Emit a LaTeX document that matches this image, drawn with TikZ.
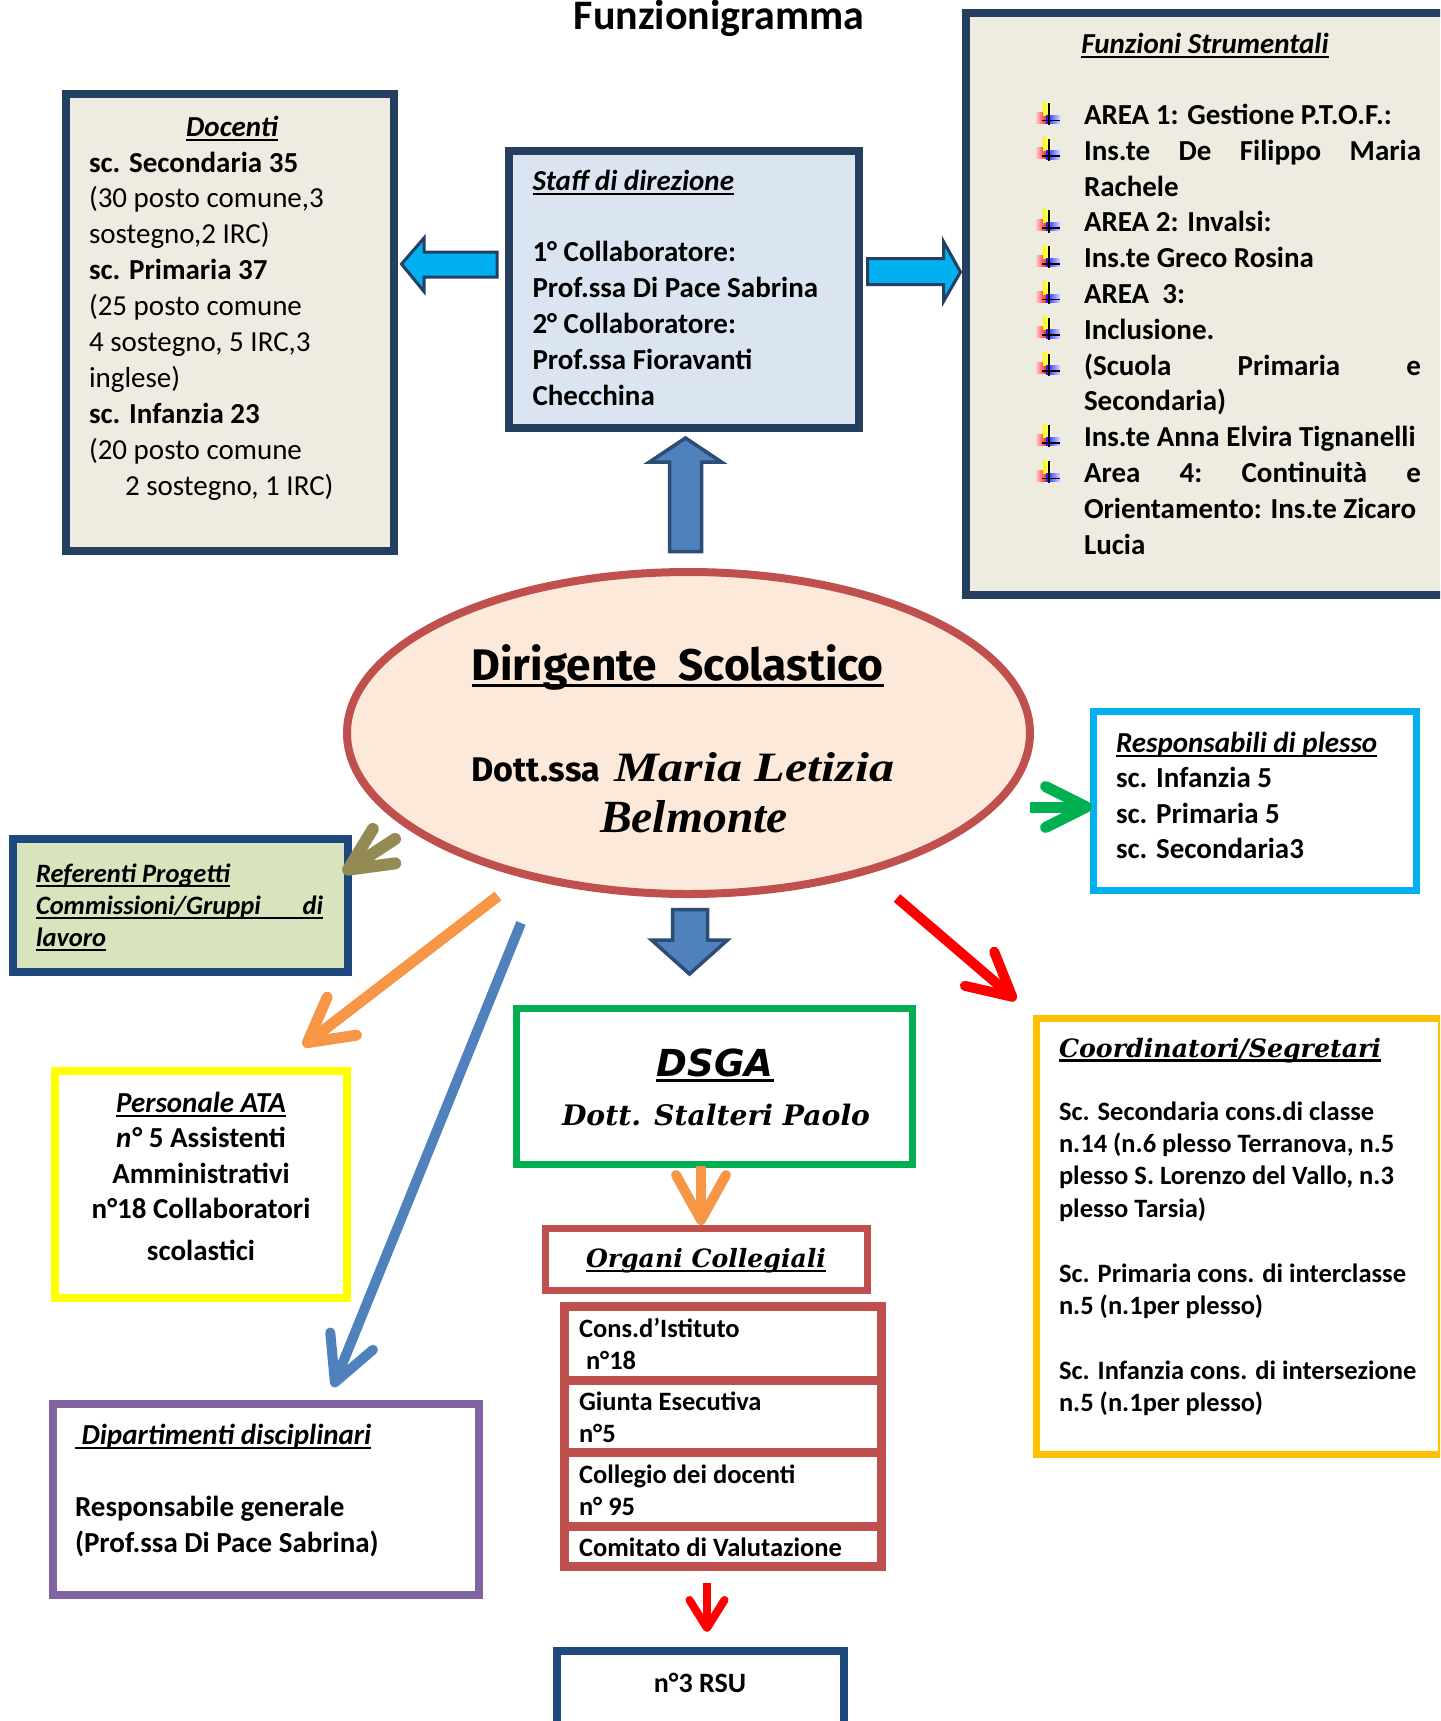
\documentclass[tikz,border=0pt]{standalone}
\usepackage{fontspec}
\usepackage{graphicx}
\setmainfont{Carlito}
\newfontfamily\djv{DejaVu Sans}[BoldItalicFont={* Bold Oblique}]
\newfontfamily\djvserif{DejaVu Serif}
\newfontfamily\fira{Fira Sans}
\newfontfamily\libserif{Liberation Serif}
\newcommand\bkbi{\djvserif\bfseries\itshape}
\newcommand\scrit{\libserif\bfseries\itshape}
\newcommand\fs[2]{\fontsize{#1}{#2}\selectfont}
% underline at a fixed depth: depth, thickness, text
\newcommand\ulbox[3]{\leavevmode\setbox0=\hbox{#3}\rlap{\rule[-#1]{\wd0}{#2}}\box0}
\newcommand\ulx[1]{\ulbox{4.5pt}{2pt}{#1}}
\usetikzlibrary{arrows.meta,shapes.geometric}

\definecolor{navyA}{HTML}{243F60}
\definecolor{navyB}{HTML}{1F497D}
\definecolor{beige}{HTML}{EEECE1}
\definecolor{paleblue}{HTML}{DBE5F1}
\definecolor{palegreen}{HTML}{D7E4BD}
\definecolor{peach}{HTML}{FDE9D9}
\definecolor{brick}{HTML}{C0504D}
\definecolor{sky}{HTML}{00B0F0}
\definecolor{lemon}{HTML}{FFFF00}
\definecolor{violetB}{HTML}{8064A2}
\definecolor{leaf}{HTML}{00B050}
\definecolor{amber}{HTML}{FFC000}
\definecolor{steel}{HTML}{4F81BD}
\definecolor{steelD}{HTML}{2C4D75}
\definecolor{tangerine}{HTML}{F79646}
\definecolor{oliveB}{HTML}{948A54}
\definecolor{pureRed}{HTML}{FF0000}

\begin{document}
\begin{tikzpicture}[x=1pt,y=-1pt,
  frame/.style={rectangle, inner sep=0pt, outer sep=0pt},
  txt/.style={inner sep=0pt, outer sep=0pt, anchor=base west},
  ctxt/.style={inner sep=0pt, outer sep=0pt, anchor=base},
  blockcyan/.style={fill=sky, draw=navyA, line width=3pt},
  blockblue/.style={fill=steel, draw=steelD, line width=3.5pt},
  barb/.style n args={3}{line width=#3, -{Straight Barb[length=#1,width=#2,round]}},
]
\useasboundingbox (0,0) rectangle (1440,1721);
\clip (0,0) rectangle (1440,1721);

% ---------- title ----------
\node[ctxt] (title) at (719,29) {\fs{42}{50}\bfseries Funzionigramma};

% ---------- boxes ----------
\node[frame, draw=navyA, fill=beige, line width=8pt, minimum width=328pt, minimum height=457pt] (doc) at (230,322.5) {};
\node[frame, draw=navyA, fill=paleblue, line width=8pt, minimum width=350pt, minimum height=277pt] (staff) at (684,289.2) {};
\node[frame, draw=navyA, fill=beige, line width=8pt, minimum width=482pt, minimum height=582pt] (fun) at (1207,304) {};
\node[ellipse, draw=brick, fill=peach, line width=8pt, minimum width=683pt, minimum height=322pt, inner sep=0pt, outer sep=0pt] (dir) at (688.5,733) {};
\node[frame, draw=sky, line width=7pt, minimum width=323pt, minimum height=179.5pt] (resp) at (1255,801.2) {};
\node[frame, draw=navyB, fill=palegreen, line width=8pt, minimum width=335pt, minimum height=133pt] (ref) at (180.5,905.5) {};
\node[frame, draw=lemon, line width=8pt, minimum width=292pt, minimum height=227pt] (ata) at (201,1184.5) {};
\node[frame, draw=violetB, line width=8pt, minimum width=426pt, minimum height=191pt] (dip) at (266,1499.5) {};
\node[frame, draw=leaf, line width=7pt, minimum width=396pt, minimum height=155.5pt] (dsga) at (714.5,1086.7) {};
\node[frame, draw=brick, line width=7pt, minimum width=322pt, minimum height=62pt] (org) at (706,1259.5) {};
\node[frame, fill=brick, minimum width=326pt, minimum height=269pt] (orgl) at (723,1436.5) {};
\fill[white] (569,1311) rectangle (877,1376);
\fill[white] (569,1385) rectangle (877,1448);
\fill[white] (569,1457) rectangle (877,1522);
\fill[white] (569,1531) rectangle (877,1562);
\node[frame, draw=amber, line width=7.5pt, minimum width=405.5pt, minimum height=436pt] (coord) at (1239.2,1236.5) {};
\node[frame, draw=navyB, line width=8pt, minimum width=287pt, minimum height=149pt] (rsu) at (700.5,1725.5) {};

% ---------- Docenti ----------
\node[ctxt] (docH) at (232,136) {\fs{29}{36}\bfseries\itshape\ulx{Docenti}};
\node[txt] (docT) at (89,172) {\parbox[t]{300pt}{\fs{29}{35.9}\raggedright
  \textbf{sc. Secondaria 35}\\
  (30 posto comune,3\\
  sostegno,2 IRC)\\
  \textbf{sc. Primaria 37}\\
  (25 posto comune\\
  4 sostegno, 5 IRC,3\\
  inglese)\\
  \textbf{sc. Infanzia 23}\\
  (20 posto comune\\
  \hspace*{36pt}2 sostegno, 1 IRC)}};

% ---------- Staff di direzione ----------
\node[txt] (staffT) at (532.5,190) {\parbox[t]{320pt}{\fs{29}{35.9}\bfseries\raggedright
  \ulx{\textit{Staff di direzione}}\\
  \mbox{}\\
  1° Collaboratore:\\
  Prof.ssa Di Pace Sabrina\\
  2° Collaboratore:\\
  Prof.ssa Fioravanti\\
  Checchina}};

% ---------- Funzioni Strumentali ----------
\node[ctxt] (funH) at (1205,53) {\fs{29}{36}\bfseries\itshape\ulx{Funzioni Strumentali}};
\node[txt] (funT) at (1084,124.5) {\parbox[t]{380pt}{\fs{29}{35.8}\bfseries\raggedright
  AREA 1: Gestione P.T.O.F.:\\
  \makebox[337pt][s]{Ins.te\hfill De\hfill Filippo\hfill Maria}\\
  Rachele\\
  AREA 2: Invalsi:\\
  Ins.te Greco Rosina\\
  AREA\ \ 3:\\
  Inclusione.\\
  \makebox[337pt][s]{(Scuola\hfill Primaria\hfill e}\\
  Secondaria)\\
  Ins.te Anna Elvira Tignanelli\\
  \makebox[337pt][s]{Area\hfill 4:\hfill Continuità\hfill e}\\
  Orientamento: Ins.te Zicaro\\
  Lucia}};
% list bullets
\foreach \b in {124.5,160.3,231.9,267.7,303.5,339.3,375.1,446.7,482.5} {
  \shade[left color=red!20, right color=red!85] (1036,\b-12.5) rectangle (1046,\b-1.5);
  \shade[left color=yellow!95!orange, right color=yellow!25] (1043,\b-22.5) rectangle (1050.5,\b-9.5);
  \shade[left color=blue!90, right color=blue!15] (1046,\b-9.5) rectangle (1060,\b-1);
  \draw[line width=1.8pt] (1049,\b-21.5) -- (1049,\b+0.7);
  \draw[line width=1.8pt] (1042,\b-4) -- (1060,\b-4);
}

% ---------- Dirigente Scolastico ----------
\node[ctxt] (dirT) at (677.7,680) {\ulbox{7pt}{3pt}{\resizebox{412pt}{!}{\fira\bfseries Dirigente\ \ Scolastico}}};
\node[txt] (dirD) at (471.5,781) {\resizebox{128.5pt}{!}{\fira\bfseries Dott.ssa}};
\node[txt] (dirM) at (614,781) {\resizebox{280pt}{29pt}{\scrit Maria Letizia}};
\node[txt] (dirB) at (600,832) {\resizebox{188pt}{32pt}{\scrit Belmonte}};

% ---------- Responsabili di plesso ----------
\node[txt] (respT) at (1116,752) {\parbox[t]{300pt}{\fs{29}{35.6}\bfseries\raggedright
  \ulx{\textit{Responsabili di plesso}}\\
  sc. Infanzia 5\\
  sc. Primaria 5\\
  sc. Secondaria3}};

% ---------- Referenti ----------
\node[txt] (refT) at (36,882) {\parbox[t]{300pt}{\fs{26.5}{32}\bfseries\itshape\raggedright
  \ulx{Referenti Progetti}\\
  \ulx{\makebox[287pt][s]{Commissioni/Gruppi\hfill di}}\\
  \ulx{lavoro}}};

% ---------- Personale ATA ----------
\node[ctxt] (ataT) at (201,1112.5) {\parbox[t]{290pt}{\fs{29}{35.4}\bfseries\centering
  \ulx{\textit{Personale ATA}}\\
  \textit{n°} 5 Assistenti\\
  Amministrativi\\
  n°18 Collaboratori\\[6.6pt]
  scolastici}};

% ---------- Dipartimenti ----------
\node[txt] (dipT) at (75,1444) {\parbox[t]{400pt}{\fs{29}{36}\bfseries\raggedright
  \ulx{\textit{\ Dipartimenti disciplinari}}\\
  \mbox{}\\
  Responsabile generale\\
  (Prof.ssa Di Pace Sabrina)}};

% ---------- DSGA ----------
\node[ctxt] (dsgaH) at (715,1076) {\ulbox{6pt}{3pt}{\resizebox{117pt}{!}{\djv\bfseries\itshape DSGA}}};
\node[ctxt] (dsgaN) at (716,1125) {\resizebox{308pt}{!}{\bkbi Dott. Stalteri Paolo}};

% ---------- Organi Collegiali ----------
\node[ctxt] (orgH) at (706,1267.6) {\ulbox{4.5pt}{2.5pt}{\resizebox{240pt}{!}{\bkbi Organi Collegiali}}};
\node[txt] (c1) at (579,1337) {\parbox[t]{300pt}{\fs{26.5}{32}\bfseries\raggedright Cons.d’Istituto\\\hspace*{7pt}n°18}};
\node[txt] (c2) at (579,1410.6) {\parbox[t]{300pt}{\fs{26.5}{32.2}\bfseries\raggedright Giunta Esecutiva\\n°5}};
\node[txt] (c3) at (579,1483.7) {\parbox[t]{300pt}{\fs{26.5}{31.5}\bfseries\raggedright Collegio dei docenti\\n° 95}};
\node[txt] (c4) at (579,1556) {\fs{26.5}{32}\bfseries Comitato di Valutazione};

% ---------- RSU ----------
\node[ctxt] (rsuT) at (700,1692) {\fs{28}{34}\bfseries n°3 RSU};

% ---------- Coordinatori/Segretari ----------
\node[txt] (coordH) at (1059,1057) {\ulbox{4.5pt}{2.5pt}{\resizebox{322pt}{!}{\bkbi Coordinatori/Segretari}}};
\node[txt] (coordT) at (1059,1120) {\parbox[t]{380pt}{\fs{26.5}{32.4}\bfseries\raggedright
  Sc. Secondaria cons.di classe\\
  n.14 (n.6 plesso Terranova, n.5\\
  plesso S. Lorenzo del Vallo, n.3\\
  plesso Tarsia)\\
  \mbox{}\\
  Sc. Primaria cons. di interclasse\\
  n.5 (n.1per plesso)\\
  \mbox{}\\
  Sc. Infanzia cons. di intersezione\\
  n.5 (n.1per plesso)}};

% ---------- block arrows ----------
\draw[blockcyan] (401.5,264) -- (424,238) -- (424,252) -- (497,252) -- (497,277) -- (424,277) -- (424,291.5) -- cycle;
\draw[blockcyan] (960.5,272) -- (943.5,241.5) -- (943.5,258.5) -- (867.5,258.5) -- (867.5,284.5) -- (943.5,284.5) -- (943.5,301.5) -- cycle;
\draw[blockblue] (685.5,438) -- (649.5,462) -- (669.5,462) -- (669.5,551.5) -- (701.5,551.5) -- (701.5,462) -- (721.5,462) -- cycle;
\draw[blockblue] (672.5,909.5) -- (707.5,909.5) -- (707.5,940) -- (727.5,940) -- (689.5,974) -- (651.5,940) -- (672.5,940) -- cycle;

% ---------- line arrows ----------
\coordinate (gA) at (1030,807);  \coordinate (gB) at (1092,807);
\coordinate (rA) at (897,898);   \coordinate (rB) at (1016,1000);
\coordinate (oA) at (498,896);   \coordinate (oB) at (303,1046);
\coordinate (bA) at (521,923);   \coordinate (bB) at (333,1387);
\coordinate (lA) at (395,839);   \coordinate (lB) at (343,873);
\coordinate (sA) at (701,1166);  \coordinate (sB) at (701,1225);
\coordinate (tA) at (707,1583);  \coordinate (tB) at (707,1632);

\draw[leaf, barb={41pt}{41pt}{11pt}] (gA) -- (gB);
\draw[pureRed, barb={43pt}{45pt}{10pt}] (rA) -- (rB);
\draw[tangerine, barb={43.5pt}{48pt}{11pt}] (oA) -- (oB);
\draw[steel, barb={44.5pt}{46pt}{10pt}] (bA) -- (bB);
\draw[oliveB, line cap=round, barb={43pt}{41pt}{12pt}] (lA) -- (lB);
\draw[tangerine, barb={45pt}{50pt}{10pt}] (sA) -- (sB);
\draw[pureRed, barb={28pt}{35pt}{8pt}] (tA) -- (tB);
\end{tikzpicture}
\end{document}
